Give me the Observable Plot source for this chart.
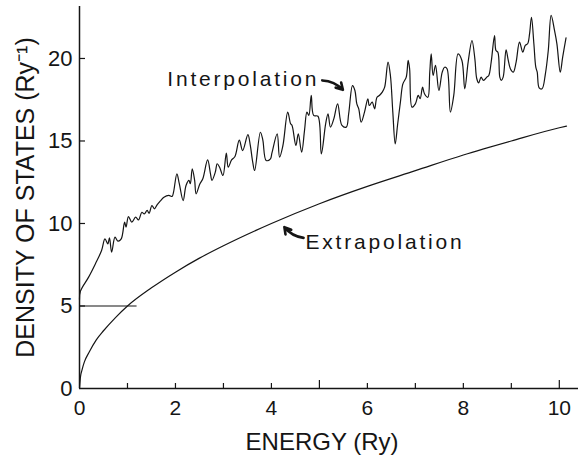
<!DOCTYPE html>
<html><head><meta charset="utf-8">
<script src="https://cdn.jsdelivr.net/npm/d3@7"></script>
<script src="https://cdn.jsdelivr.net/npm/@observablehq/plot@0.6"></script>
<style>
body{margin:0;background:#fff}
#chart{width:578px;height:457px}
</style>
</head><body><div id="chart"></div>
<script>
// Interpolation curve
const interpX = [0,0.02,0.19,0.33,0.46,0.53,0.59,0.625,0.67,0.74,0.80,0.87,0.94,0.97,1.02,1.09,1.17,1.23,1.30,1.35,1.41,1.45,1.51,1.56,1.62,
1.68,1.76,1.86,1.93,1.96,2.03,2.08,2.16,2.22,2.28,2.31,2.35,2.40,2.43,2.51,2.57,2.67,2.73,2.76,2.83,2.87,2.92,2.99,3.06,3.10,3.17,3.24,
3.33,3.40,3.51,3.56,3.61,3.65,3.77,3.82,3.89,3.98,4.01,4.12,4.17,4.24,4.34,4.40,4.43,4.51,4.56,4.63,4.69,4.74,4.78,4.83,4.88,4.97,
5.04,5.13,5.18,5.23,5.30,5.38,5.47,5.56,5.61,5.69,5.74,5.78,5.82,5.87,5.94,6.01,6.04,6.10,6.15,6.20,6.25,6.31,6.36,6.43,6.48,6.53,6.58,
6.63,6.69,6.74,6.81,6.85,6.88,6.93,7.00,7.06,7.10,7.15,7.19,7.26,7.30,7.33,7.37,7.42,7.49,7.56,7.61,7.66,7.73,7.80,7.89,7.97,8.03,8.10,8.18,8.24,8.28,
8.32,8.37,8.42,8.49,8.53,8.58,8.65,8.68,8.72,8.76,8.79,8.83,8.89,8.93,8.98,9.04,9.10,9.17,9.24,9.29,9.34,9.38,9.42,9.47,9.51,9.54,9.58,9.64,9.71,9.77,9.83,9.90,9.95,10.02,10.07,10.14];
const interpY = [5.4,5.9,6.75,7.55,8.36,9.07,8.77,9.13,8.26,9.17,8.93,9.07,10.08,9.78,10.42,10.08,10.38,10.22,10.68,10.58,10.79,10.62,11.09,10.89,11.15,
11.35,11.59,11.70,11.64,11.90,13.01,12.41,11.39,12.30,12.61,12.41,13.31,12.61,11.80,12.41,12.71,13.85,13.01,12.61,13.11,13.62,13.41,12.91,14.26,13.41,13.85,14.06,
15.05,14.42,15.39,14.73,13.72,13.21,15.53,15.07,13.82,13.92,14.26,15.43,14.02,14.73,16.75,16.04,15.94,14.73,15.43,14.32,15.64,16.75,16.55,17.76,16.55,16.50,
14.22,16.04,16.65,15.84,16.34,17.25,15.94,15.84,16.65,18.36,18.06,17.25,16.95,16.14,16.75,17.56,17.15,17.35,16.95,17.65,17.76,17.96,18.26,19.78,18.97,16.75,14.83,
16.00,17.40,18.46,18.87,19.88,19.38,17.05,17.25,17.76,17.56,18.26,17.86,17.65,19.17,20.28,18.97,19.58,18.06,19.17,19.47,19.38,16.75,17.76,20.28,19.88,18.16,19.78,21.09,19.98,18.77,
18.52,18.87,18.67,18.87,18.97,19.78,21.39,20.48,20.38,18.87,18.67,18.87,20.53,19.98,19.38,19.17,19.78,20.99,20.38,20.79,20.89,21.49,22.50,20.89,19.47,19.17,18.22,18.16,19.07,20.48,22.61,21.70,20.89,19.17,20.08,21.25];

// Extrapolation curve
const extrapX = [0,0.02,0.05,0.1,0.2,0.35,0.5,0.75,1,1.5,2,2.5,3,4,5,6,7,8,9,10,10.15];
const extrapY = [0,0.7,1.1,1.6,2.2,2.95,3.5,4.3,5.0,6.1,7.05,7.9,8.65,10.0,11.2,12.25,13.2,14.15,15.0,15.8,15.9];

// Short horizontal reference line at 5
const refX1 = [0];
const refX2 = [1.2];
const refY = [5];

// Ticks and labels
const xTickLabels = [0,2,4,6,8,10];
const xMinorTicks = [1,2,3,4,6,7,8,9];
const xMajorTicks = [5,10];
const yTickLabels = [0,5,10,15,20];
const yTicks = [5,10,15,20];

// Annotations
const noteText = ["Interpolation","Extrapolation"];
const noteX = [1.83, 4.71];
const noteY = [18.73, 8.85];
const arrowX1 = [5.06, 4.67];
const arrowY1 = [18.67, 9.13];
const arrowX2 = [5.49, 4.27];
const arrowY2 = [18.10, 9.78];

const xLabel = "ENERGY (Ry)";
const yLabel = "DENSITY OF STATES (Ry\u207B\u00B9)";

const interp = interpX.map((x,i)=>({x, y: interpY[i]}));
const extrap = extrapX.map((x,i)=>({x, y: extrapY[i]}));
const refs = refX1.map((x1,i)=>({x1, x2: refX2[i], y: refY[i]}));
const notes = noteText.map((t,i)=>({t, x: noteX[i], y: noteY[i]}));
const arrows = arrowX1.map((x1,i)=>({x1, y1: arrowY1[i], x2: arrowX2[i], y2: arrowY2[i]}));

const ink = "#151515";
const W = 578, H = 457, ML = 79, MR = 0, MT = 6, MB = 69;
const frameW = W - ML - MR, frameH = H - MT - MB;

const chart = Plot.plot({
  width: W, height: H,
  marginLeft: ML, marginRight: MR, marginTop: MT, marginBottom: MB,
  x: {domain: [0, 10.4]},
  y: {domain: [0, 23.15]},
  style: {fontFamily: "'Liberation Sans', Arial, sans-serif", color: ink, background: "#fff", overflow: "visible"},
  marks: [
    Plot.ruleX([0], {stroke: ink, strokeWidth: 1.5}),
    Plot.ruleY([0], {stroke: ink, strokeWidth: 1.5}),
    Plot.tickX(xMinorTicks, {x: d=>d, insetTop: frameH - 5, stroke: ink, strokeWidth: 1.2}),
    Plot.tickX(xMajorTicks, {x: d=>d, insetTop: frameH - 8, stroke: ink, strokeWidth: 1.2}),
    Plot.tickY(yTicks, {y: d=>d, insetRight: frameW - 6, stroke: ink, strokeWidth: 1.2}),
    Plot.axisX(xTickLabels, {tickSize: 0, tickPadding: 12, fontSize: 21, label: null, fill: ink}),
    Plot.axisY(yTickLabels, {tickSize: 0, tickPadding: 7, fontSize: 22, label: null, fill: ink}),
    Plot.ruleY(refs, {x1: "x1", x2: "x2", y: "y", stroke: ink, strokeWidth: 1.2}),
    Plot.line(extrap, {x: "x", y: "y", curve: "monotone-x", stroke: ink, strokeWidth: 1.2}),
    Plot.line(interp, {x: "x", y: "y", curve: "catmull-rom", stroke: ink, strokeWidth: 1.2}),
    Plot.text(notes, {x: "x", y: "y", text: "t", textAnchor: "start", fontSize: 21, fill: ink}),
    Plot.arrow(arrows, {x1: "x1", y1: "y1", x2: "x2", y2: "y2", bend: 22, stroke: ink, strokeWidth: 2.6, headLength: 7}),
    Plot.text([xLabel], {frameAnchor: "bottom", textAnchor: "middle", lineAnchor: "middle", dx: -7, dy: 54, fontSize: 24, fill: ink}),
    Plot.text([yLabel], {frameAnchor: "left", textAnchor: "middle", lineAnchor: "middle", rotate: -90, dx: -54, fontSize: 25, fill: ink})
  ]
});
d3.select(chart).selectAll("text")
  .filter(function(){ return noteText.includes(this.textContent); })
  .attr("letter-spacing", "2.8px");
document.getElementById("chart").appendChild(chart);
</script>
</body></html>
